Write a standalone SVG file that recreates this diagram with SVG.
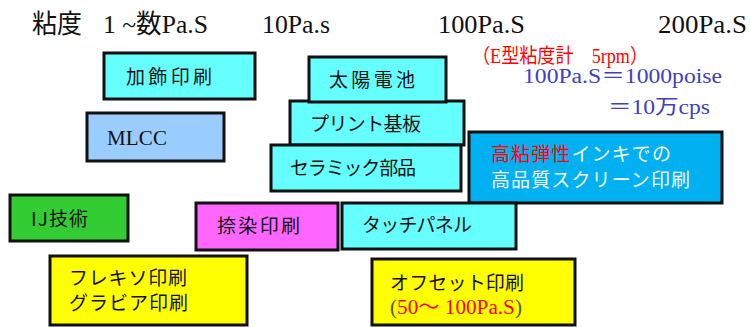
<svg xmlns="http://www.w3.org/2000/svg" width="750" height="327" viewBox="0 0 750 327">
<style>
.box{stroke:#111;stroke-width:3}
.jp{font-family:"Noto Sans CJK JP","Noto Sans",sans-serif;font-size:19px;fill:#111}
.serif{font-family:"Liberation Serif","Noto Sans CJK JP",serif}
.hdr{font-size:26px;fill:#111}
.cyan{fill:#66FFFF}
</style>
<rect width="750" height="327" fill="#fff"/>
<g id="header">
<text class="serif hdr" x="32" y="33" textLength="50" lengthAdjust="spacingAndGlyphs">粘度</text>
<text class="serif hdr" x="103" y="33" textLength="105" lengthAdjust="spacingAndGlyphs">1 ~数Pa.S</text>
<text class="serif hdr" x="262" y="33" textLength="68" lengthAdjust="spacingAndGlyphs">10Pa.s</text>
<text class="serif hdr" x="438" y="33" textLength="87" lengthAdjust="spacingAndGlyphs">100Pa.S</text>
<text class="serif hdr" x="658" y="33" textLength="89" lengthAdjust="spacingAndGlyphs">200Pa.S</text>
<text class="serif" x="472" y="63" font-size="20" fill="#FF0000" textLength="176" lengthAdjust="spacingAndGlyphs">（E型粘度計　5rpm）</text>
<text class="serif" x="523" y="83" font-size="20" fill="#4040C0" textLength="199" lengthAdjust="spacingAndGlyphs">100Pa.S＝1000poise</text>
<text class="serif" x="608" y="114" font-size="20" fill="#4040C0" textLength="102" lengthAdjust="spacingAndGlyphs">＝10万cps</text>
</g>
<g id="n-kashoku"><rect class="box cyan" x="104" y="53" width="151" height="46"/><text class="jp" x="126" y="84" textLength="86">加飾印刷</text></g>
<g id="n-print"><rect class="box cyan" x="290" y="101" width="174" height="44"/><text class="jp" x="310" y="131" textLength="111">プリント基板</text></g>
<g id="n-solar"><rect class="box cyan" x="309" y="57" width="137" height="45"/><text class="jp" x="329" y="87" textLength="86">太陽電池</text></g>
<g id="n-ceramic"><rect class="box cyan" x="271" y="145" width="190" height="46"/><text class="jp" x="290" y="175" textLength="126">セラミック部品</text></g>
<g id="n-mlcc"><rect class="box" fill="#99CCFF" x="87" y="113" width="137" height="48"/><text x="107" y="145" font-family="Liberation Serif, serif" font-size="21" fill="#111" textLength="60">MLCC</text></g>
<g id="n-screen"><rect class="box" fill="#00B0F0" x="469" y="132" width="253" height="71"/><text class="jp" x="491" y="161" textLength="180" style="fill:#F4FAFF"><tspan style="fill:#FF0000">高粘弾性</tspan>インキでの</text><text class="jp" x="491" y="187" textLength="199" style="fill:#F4FAFF">高品質スクリーン印刷</text></g>
<g id="n-ij"><rect class="box" fill="#33CC33" x="10" y="195" width="118" height="46"/><text class="jp" x="31" y="226" textLength="57">IJ技術</text></g>
<g id="n-nassen"><rect class="box" fill="#FF66FF" x="196" y="203" width="142" height="47"/><text class="jp" x="217" y="233" textLength="83">捺染印刷</text></g>
<g id="n-touch"><rect class="box cyan" x="342" y="203" width="174" height="46"/><text class="jp" x="362" y="232" textLength="110">タッチパネル</text></g>
<g id="n-flexo"><rect class="box" fill="#FFFF00" x="50" y="256" width="197" height="69"/><text class="jp" x="69" y="285" textLength="118">フレキソ印刷</text><text class="jp" x="69" y="310" textLength="119">グラビア印刷</text></g>
<g id="n-offset"><rect class="box" fill="#FFFF00" x="372" y="259" width="203" height="66"/><text class="jp" x="390" y="290" textLength="134">オフセット印刷</text><text class="serif" x="390" y="314" font-size="20" fill="#555500" textLength="132" lengthAdjust="spacingAndGlyphs">(<tspan fill="#FF0000">50～ 100Pa.S</tspan>)</text></g>
<g id="connectors"></g>
</svg>
